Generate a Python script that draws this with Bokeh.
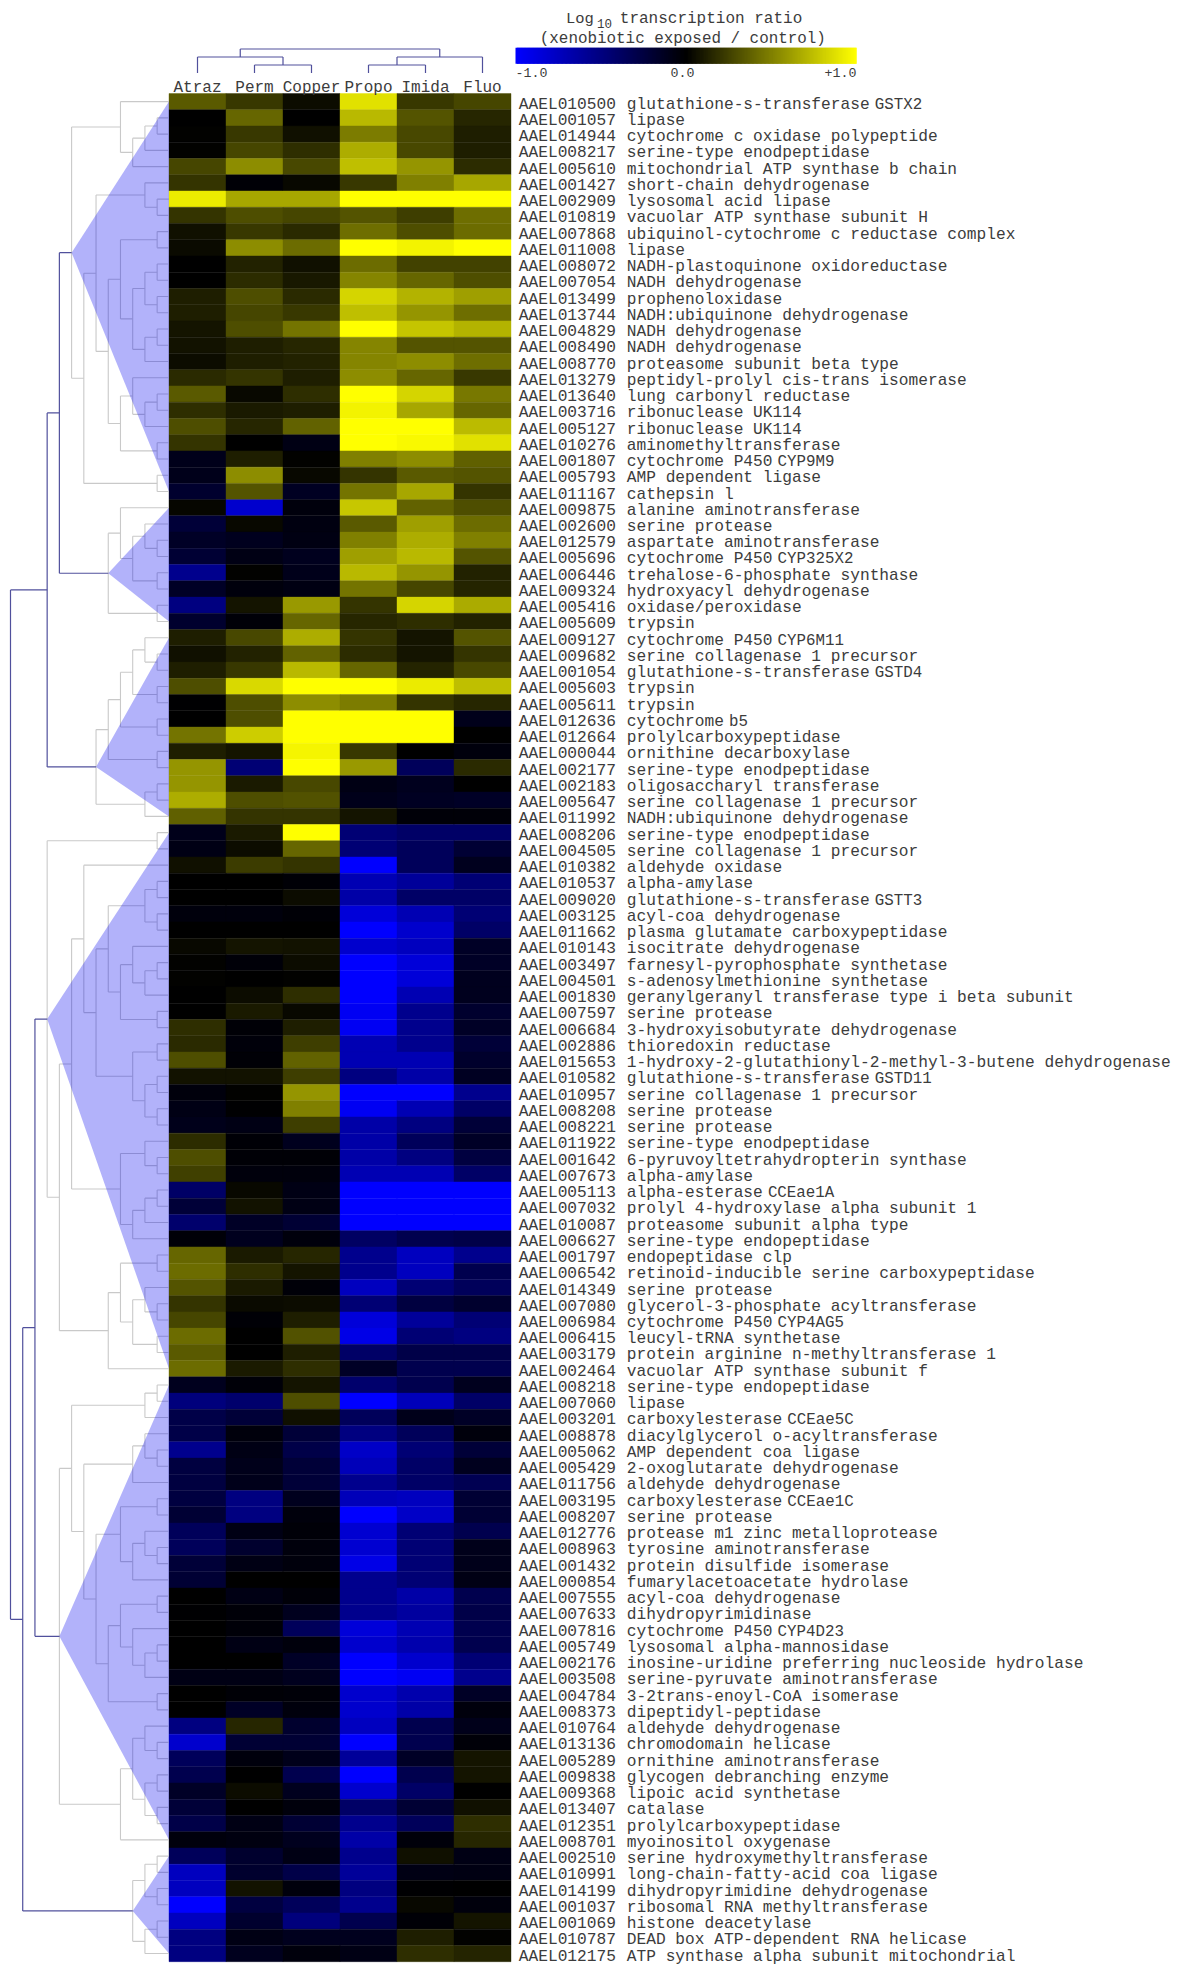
from bokeh.plotting import figure
from bokeh.embed import file_html
from bokeh.resources import INLINE
from bokeh.core.properties import value
from bokeh.models import ColumnDataSource, LinearColorMapper
from bokeh.transform import transform

# ---------- data ----------
COLUMNS = ["Atraz", "Perm", "Copper", "Propo", "Imida", "Fluo"]

ATRAZ = [.35,0,.01,.01,.27,.2,.92,.2,.06,.04,
 0,0,.12,.12,.08,.07,.05,.16,.35,.18,
 .3,.2,-.1,-.1,-.18,.02,-.22,-.15,-.2,-.55,
 -.15,-.5,-.18,.12,.06,.12,.3,-.01,0,.45,
 .12,.58,.58,.68,.37,-.1,-.08,.06,0,0,
 -.05,0,.03,.01,.01,0,0,.18,.16,.3,
 .07,-.05,-.08,-.1,.17,.3,.25,-.4,-.22,-.42,
 -.03,.4,.42,.33,.2,.27,.42,.35,.42,-.12,
 -.48,-.28,-.28,-.55,-.25,-.25,-.25,-.2,-.35,-.35,
 -.22,-.2,0,-.01,0,0,0,-.08,0,0,
 -.5,-.8,-.35,-.3,-.15,-.22,-.28,-.05,-.35,-.75,
 -.75,-1,-.75,-.5,-.5]
PERM = [.22,.4,.22,.27,.55,-.02,.65,.3,.22,.55,
 .13,.17,.3,.27,.3,.12,.12,.2,.03,.1,
 .15,0,.12,.55,.33,-.8,.03,-.12,-.08,.01,
 -.05,.08,-.03,.28,.13,.22,.85,.3,.3,.8,
 .08,-.45,.1,.3,.2,.1,.05,.23,0,0,
 -.05,0,.08,-.03,0,.05,.1,-.02,-.04,-.02,
 .07,.01,-.01,-.08,-.02,-.02,-.05,.03,.07,-.15,
 -.12,.1,.18,.1,.04,-.02,0,0,.1,-.03,
 -.42,-.22,-.05,-.08,-.1,-.1,-.5,-.5,-.08,-.18,
 -.08,0,-.08,-.03,-.03,-.08,0,-.08,-.02,-.15,
 .15,-.2,-.05,0,.05,0,-.08,-.06,-.18,-.18,
 .07,-.25,-.18,-.08,-.12]
COPPER = [.05,0,.06,.18,.28,.03,.65,.27,.16,.42,
 .06,.09,.16,.22,.45,.15,.13,.12,.18,.12,
 .38,-.08,.01,.03,-.13,-.05,-.06,-.07,-.12,-.1,
 -.07,.6,.4,.68,.38,.72,1,.55,1,1,
 .96,1,.28,.32,.2,1,.4,.2,-.02,.05,
 -.02,0,.07,.05,.01,.18,.03,.12,.24,.38,
 .24,.58,.5,.24,-.12,-.02,-.05,-.08,-.08,-.2,
 -.05,.15,.08,-.03,.05,.12,.32,.12,.18,.08,
 .3,.06,-.22,-.28,-.22,-.22,-.12,-.05,-.03,-.05,
 -.05,0,-.03,-.12,-.35,-.05,-.15,-.12,-.03,-.05,
 -.18,-.2,-.1,-.3,-.12,-.05,-.2,-.12,-.08,-.28,
 -.05,-.35,-.48,-.12,-.05]
PROPO = [.88,.72,.48,.68,.75,.22,1,.33,.43,1,
 .42,.52,.83,.75,1,.52,.52,.55,1,.95,
 1,1,.5,.2,.45,.78,.35,.5,.62,.72,
 .45,.2,.15,.2,.17,.4,1,.48,1,1,
 .22,.6,-.08,-.1,.08,-.45,-.45,-1,-.7,-.65,
 -.85,-1,-.8,-1,-1,-1,-.95,-.95,-.7,-.7,
 -.5,-1,-.95,-.65,-.65,-.65,-.7,-1,-1,-1,
 -.38,-.55,-.55,-.75,-.45,-.85,-.9,-.4,-.15,-.42,
 -1,-.35,-.5,-.78,-.72,-.55,-.72,-1,-.82,-.82,
 -.9,-.55,-.55,-.55,-.85,-.8,-1,-1,-.8,-.8,
 -.75,-1,-.6,-1,-.8,-.4,-.55,-.65,-.55,-.6,
 -.5,-.55,-.3,-.12,-.08]
IMIDA = [.22,.33,.28,.28,.58,.5,1,.24,.3,.95,
 .26,.4,.7,.58,.77,.33,.55,.4,.83,.65,
 1,.97,.55,.35,.65,.38,.62,.68,.72,.58,
 .27,.83,.18,.08,.08,.14,.92,.2,1,1,
 0,-.35,-.12,-.13,-.03,-.4,-.35,-.35,-.6,-.4,
 -.7,-.8,-.75,-.85,-.85,-.7,-.55,-.55,-.55,-.7,
 -.65,-1,-.7,-.5,-.35,-.5,-.7,-1,-1,-1,
 -.3,-.75,-.75,-.45,-.25,-.6,-.45,-.28,-.3,-.3,
 -.72,-.1,-.35,-.45,-.4,-.4,-.75,-.78,-.45,-.45,
 -.45,-.45,-.65,-.62,-.7,-.68,-.8,-.95,-.68,-.65,
 -.3,-.3,-.15,-.3,-.4,-.2,-.35,-.04,.06,-.08,
 -.01,.03,-.02,.12,.18]
FLUO = [.27,.15,.12,.12,.17,.65,1,.43,.42,1,
 .26,.3,.62,.43,.7,.33,.43,.22,.47,.4,
 .73,.88,.37,.33,.2,.3,.42,.5,.33,.13,
 .14,.67,.13,.33,.2,.28,.75,.15,-.1,0,
 -.05,.16,0,-.15,-.03,-.4,-.2,-.12,-.45,-.4,
 -.45,-.4,-.15,-.15,-.12,-.12,-.18,-.15,-.22,-.17,
 -.13,-.55,-.4,-.22,-.15,-.25,-.4,-1,-1,-1,
 -.28,-.55,-.3,-.35,-.18,-.45,-.5,-.28,-.3,-.12,
 -.4,-.15,-.05,-.22,-.12,-.32,-.2,-.2,-.3,-.1,
 -.1,-.08,-.3,-.28,-.3,-.3,-.45,-.55,-.15,-.05,
 -.1,-.03,.08,.08,0,.06,.18,.15,-.08,-.07,
 0,-.05,.08,.01,.14]
SERIES = [ATRAZ, PERM, COPPER, PROPO, IMIDA, FLUO]

GENE_IDS = """AAEL010500 AAEL001057 AAEL014944 AAEL008217 AAEL005610 AAEL001427 AAEL002909 AAEL010819 AAEL007868 AAEL011008
AAEL008072 AAEL007054 AAEL013499 AAEL013744 AAEL004829 AAEL008490 AAEL008770 AAEL013279 AAEL013640 AAEL003716
AAEL005127 AAEL010276 AAEL001807 AAEL005793 AAEL011167 AAEL009875 AAEL002600 AAEL012579 AAEL005696 AAEL006446
AAEL009324 AAEL005416 AAEL005609 AAEL009127 AAEL009682 AAEL001054 AAEL005603 AAEL005611 AAEL012636 AAEL012664
AAEL000044 AAEL002177 AAEL002183 AAEL005647 AAEL011992 AAEL008206 AAEL004505 AAEL010382 AAEL010537 AAEL009020
AAEL003125 AAEL011662 AAEL010143 AAEL003497 AAEL004501 AAEL001830 AAEL007597 AAEL006684 AAEL002886 AAEL015653
AAEL010582 AAEL010957 AAEL008208 AAEL008221 AAEL011922 AAEL001642 AAEL007673 AAEL005113 AAEL007032 AAEL010087
AAEL006627 AAEL001797 AAEL006542 AAEL014349 AAEL007080 AAEL006984 AAEL006415 AAEL003179 AAEL002464 AAEL008218
AAEL007060 AAEL003201 AAEL008878 AAEL005062 AAEL005429 AAEL011756 AAEL003195 AAEL008207 AAEL012776 AAEL008963
AAEL001432 AAEL000854 AAEL007555 AAEL007633 AAEL007816 AAEL005749 AAEL002176 AAEL003508 AAEL004784 AAEL008373
AAEL010764 AAEL013136 AAEL005289 AAEL009838 AAEL009368 AAEL013407 AAEL012351 AAEL008701 AAEL002510 AAEL010991
AAEL014199 AAEL001037 AAEL001069 AAEL010787 AAEL012175""".split()

# a "|" separates the family name from the gene symbol set after it
GENE_NAMES = [
 "glutathione-s-transferase|GSTX2", "lipase", "cytochrome c oxidase polypeptide", "serine-type enodpeptidase",
 "mitochondrial ATP synthase b chain", "short-chain dehydrogenase", "lysosomal acid lipase",
 "vacuolar ATP synthase subunit H", "ubiquinol-cytochrome c reductase complex", "lipase",
 "NADH-plastoquinone oxidoreductase", "NADH dehydrogenase", "prophenoloxidase", "NADH:ubiquinone dehydrogenase",
 "NADH dehydrogenase", "NADH dehydrogenase", "proteasome subunit beta type", "peptidyl-prolyl cis-trans isomerase",
 "lung carbonyl reductase", "ribonuclease UK114", "ribonuclease UK114", "aminomethyltransferase",
 "cytochrome P450|CYP9M9", "AMP dependent ligase", "cathepsin l", "alanine aminotransferase", "serine protease",
 "aspartate aminotransferase", "cytochrome P450|CYP325X2", "trehalose-6-phosphate synthase",
 "hydroxyacyl dehydrogenase", "oxidase/peroxidase", "trypsin", "cytochrome P450|CYP6M11",
 "serine collagenase 1 precursor", "glutathione-s-transferase|GSTD4", "trypsin", "trypsin", "cytochrome|b5",
 "prolylcarboxypeptidase", "ornithine decarboxylase", "serine-type enodpeptidase", "oligosaccharyl transferase",
 "serine collagenase 1 precursor", "NADH:ubiquinone dehydrogenase", "serine-type enodpeptidase",
 "serine collagenase 1 precursor", "aldehyde oxidase", "alpha-amylase", "glutathione-s-transferase|GSTT3",
 "acyl-coa dehydrogenase", "plasma glutamate carboxypeptidase", "isocitrate dehydrogenase",
 "farnesyl-pyrophosphate synthetase", "s-adenosylmethionine synthetase",
 "geranylgeranyl transferase type i beta subunit", "serine protease", "3-hydroxyisobutyrate dehydrogenase",
 "thioredoxin reductase", "1-hydroxy-2-glutathionyl-2-methyl-3-butene dehydrogenase",
 "glutathione-s-transferase|GSTD11", "serine collagenase 1 precursor", "serine protease", "serine protease",
 "serine-type enodpeptidase", "6-pyruvoyltetrahydropterin synthase", "alpha-amylase", "alpha-esterase|CCEae1A",
 "prolyl 4-hydroxylase alpha subunit 1", "proteasome subunit alpha type", "serine-type endopeptidase",
 "endopeptidase clp", "retinoid-inducible serine carboxypeptidase", "serine protease",
 "glycerol-3-phosphate acyltransferase", "cytochrome P450|CYP4AG5", "leucyl-tRNA synthetase",
 "protein arginine n-methyltransferase 1", "vacuolar ATP synthase subunit f", "serine-type endopeptidase", "lipase",
 "carboxylesterase|CCEae5C", "diacylglycerol o-acyltransferase", "AMP dependent coa ligase",
 "2-oxoglutarate dehydrogenase", "aldehyde dehydrogenase", "carboxylesterase|CCEae1C", "serine protease",
 "protease m1 zinc metalloprotease", "tyrosine aminotransferase", "protein disulfide isomerase",
 "fumarylacetoacetate hydrolase", "acyl-coa dehydrogenase", "dihydropyrimidinase", "cytochrome P450|CYP4D23",
 "lysosomal alpha-mannosidase", "inosine-uridine preferring nucleoside hydrolase",
 "serine-pyruvate aminotransferase", "3-2trans-enoyl-CoA isomerase", "dipeptidyl-peptidase",
 "aldehyde dehydrogenase", "chromodomain helicase", "ornithine aminotransferase", "glycogen debranching enzyme",
 "lipoic acid synthetase", "catalase", "prolylcarboxypeptidase", "myoinositol oxygenase",
 "serine hydroxymethyltransferase", "long-chain-fatty-acid coa ligase", "dihydropyrimidine dehydrogenase",
 "ribosomal RNA methyltransferase", "histone deacetylase", "DEAD box ATP-dependent RNA helicase",
 "ATP synthase alpha subunit mitochondrial"]

assert len(GENE_IDS) == len(GENE_NAMES) == 115 and all(len(s) == 115 for s in SERIES)

# row dendrogram: (merge level, child, child); a plain int is a row
CL1 = (5, (9, 0, (10, (11, (12, 1, 2), 3), 4)),
       (6, (7, (11, 5, (12, 6, 7)),
            (8, (9, (12, 8, 9), (10, (11, (12, 10, 11), (12, 12, 13)), (11, (12, 14, 15), 16))),
             (9, (10, 17, (11, (12, 18, 19), 20)), (12, 21, 22)))),
        (12, 23, 24)))
CL2 = (8, (9, 25, (10, (11, 26, (12, 27, 28)), (12, 29, 30))), (12, 31, 32))
CL3 = (7, (8, (9, (10, (11, 33, (12, 34, 35)), (12, 36, 37)), (12, 38, 39)), (12, 40, 41)),
       (11, (12, 42, 43), 44))
CL4 = (3, (12, 45, 46),
       (4, (5, (6, 47, (7, (8, (11, (12, 48, 49), (12, 50, 51)),
                            (9, (10, 52, (11, (12, 53, 54), 55)), (12, 56, 57))),
                        (10, (12, 58, 59), (11, (12, 60, 61), (12, 62, 63))))),
            (9, (11, 64, (12, 65, 66)), (10, (11, (12, 67, 68), 69), 70))),
        (8, (9, (12, 71, 72), (10, (11, 73, (12, 74, 75)), (12, 76, 77))), 78)))
CL5 = (4, (5, (11, (12, 79, 80), 81),
           (6, (10, (11, 82, (12, 83, 84)), 85),
            (7, (9, (12, 86, 87), (10, (11, 88, (12, 89, 90)), 91)),
             (8, (9, (12, 92, 93), (10, 94, (11, (12, 95, 96), 97))), (12, 98, 99))))),
       (9, (10, (11, 100, (12, 101, 102)), (11, (12, 103, 104), (12, 105, 106))), 107))
CL6 = (10, (11, (12, 108, 109), (12, 110, 111)), (11, (12, 112, 113), 114))
ROW_TREE = (0, (3, (4, CL1, CL2), CL3), (1, (2, CL4, CL5), CL6))
CLUSTERS = [CL1, CL2, CL3, CL4, CL5, CL6]

# column dendrogram
COL_TREE = (0, (1, 0, (2, 1, 2)), (1, (2, 3, 4), 5))

SCALE_TICKS = ["-1.0", "0.0", "+1.0"]

# ---------- layout (page pixels) ----------
HEAT_L, COL_W = 168.5, 57.0
HEAT_T, ROW_H = 93.0, 16.245
LEVEL_X0, LEVEL_DX = 10.0, 12.22
COLTREE_TOP, COLTREE_DY, COLTREE_BOTTOM = 48.5, 8.0, 72.5
BAR_L, BAR_R, BAR_T, BAR_B = 515.0, 856.0, 47.3, 63.3
NAVY, GREY = "#50509c", "#c9c9c9"
FONT = value("Liberation Mono")
INK = "#3c3c3c"

p = figure(width=1178, height=1966, x_range=(0, 1178), y_range=(1966, 0),
           output_backend="svg", toolbar_location=None, min_border=0,
           outline_line_color=None, background_fill_color="white", border_fill_color="white")
p.axis.visible = False
p.grid.visible = False

row_y = lambda r: HEAT_T + ROW_H * (r + .5)
level_x = lambda l: LEVEL_X0 + LEVEL_DX * l
col_x = lambda c: HEAT_L + COL_W * (c + .5)

# ---------- heat map ----------
palette = ["#%02x%02x%02x" % ((0, 0, round(255 * (128 - i) / 128)) if i < 128
                              else (round(255 * (i - 128) / 128), round(255 * (i - 128) / 128), 0))
           for i in range(257)]
mapper = LinearColorMapper(palette=palette, low=-1, high=1)

cell = dict(x=[], y=[], v=[])
for c, series in enumerate(SERIES):
    for r, v in enumerate(series):
        cell["x"].append(col_x(c)); cell["y"].append(row_y(r)); cell["v"].append(v)
p.rect("x", "y", width=COL_W, height=ROW_H, source=ColumnDataSource(cell),
       fill_color=transform("v", mapper), line_color=transform("v", mapper), line_width=0.4)

# ---------- row dendrogram ----------
segs = {NAVY: dict(x0=[], y0=[], x1=[], y1=[]), GREY: dict(x0=[], y0=[], x1=[], y1=[])}
wedges = dict(xs=[], ys=[])

def seg(colour, x0, y0, x1, y1):
    s = segs[colour]
    s["x0"].append(x0); s["y0"].append(y0); s["x1"].append(x1); s["y1"].append(y1)

def leaves(node):
    return [node] if isinstance(node, int) else leaves(node[1]) + leaves(node[2])

def walk(node, colour):
    if isinstance(node, int):
        return HEAT_L, row_y(node)
    if any(node is c for c in CLUSTERS):
        colour = GREY
    x = level_x(node[0])
    xa, ya = walk(node[1], colour)
    xb, yb = walk(node[2], colour)
    seg(colour, x, ya, x, yb)
    seg(colour, x, ya, xa, ya)
    seg(colour, x, yb, xb, yb)
    y = (ya + yb) / 2
    if any(node is c for c in CLUSTERS):
        ls = leaves(node)
        wedges["xs"].append([x, HEAT_L, HEAT_L])
        wedges["ys"].append([y, row_y(min(ls)), row_y(max(ls))])
    return x, y

walk(ROW_TREE, NAVY)

# ---------- column dendrogram ----------
def walk_col(node):
    if isinstance(node, int):
        return col_x(node), COLTREE_BOTTOM
    y = COLTREE_TOP + COLTREE_DY * node[0]
    xa, ya = walk_col(node[1])
    xb, yb = walk_col(node[2])
    seg(NAVY, xa, y, xb, y)
    seg(NAVY, xa, y, xa, ya)
    seg(NAVY, xb, y, xb, yb)
    return (xa + xb) / 2, y

walk_col(COL_TREE)

p.segment("x0", "y0", "x1", "y1", source=ColumnDataSource(segs[GREY]), line_color=GREY, line_width=1.1)
p.patches("xs", "ys", source=ColumnDataSource(wedges), fill_color="#0606ef", fill_alpha=0.31, line_color=None)
p.segment("x0", "y0", "x1", "y1", source=ColumnDataSource(segs[NAVY]), line_color=NAVY, line_width=1.2)

# ---------- column labels ----------
p.text([col_x(i) for i in range(6)], [87] * 6, text=COLUMNS, text_font=FONT, text_font_size="16px",
       text_align="center", text_baseline="alphabetic", text_color=INK)

# ---------- row labels ----------
CH_W = 9.72
ids_x, ids_y, nm_x, nm_t, nm_y, sf_x, sf_t, sf_y = [], [], [], [], [], [], [], []
for r, (gid, name) in enumerate(zip(GENE_IDS, GENE_NAMES)):
    y = row_y(r) + 3.0
    ids_x.append(518.3); ids_y.append(y)
    main, _, sym = name.partition("|")
    nm_x.append(626.3); nm_t.append(main); nm_y.append(y)
    if sym:
        sf_x.append(626.3 + CH_W * len(main) + 5); sf_t.append(sym); sf_y.append(y)
label = dict(text_font=FONT, text_font_size="16.2px", text_baseline="alphabetic", text_color=INK)
p.text(ids_x, ids_y, text=GENE_IDS, **label)
p.text(nm_x, nm_y, text=nm_t, **label)
p.text(sf_x, sf_y, text=sf_t, text_font=FONT, text_font_size="15.8px", text_baseline="alphabetic", text_color=INK)

# ---------- colour scale ----------
steps = len(palette)
bar_w = (BAR_R - BAR_L) / steps
p.quad(left=[BAR_L + i * bar_w for i in range(steps)],
       right=[min(BAR_L + (i + 2) * bar_w, BAR_R) for i in range(steps)],
       top=[BAR_T] * steps, bottom=[BAR_B] * steps,
       fill_color=palette, line_color=None)

title = dict(text_font=FONT, text_baseline="alphabetic", text_color=INK)
p.text([565.5], [18.5], text=["Log"], text_font_size="15.5px", **title)
p.text([596.5], [22.5], text=["10"], text_font_size="12.5px", **title)
p.text([619.3], [18.5], text=["transcription ratio"], text_font_size="16px", **title)
p.text([539.3], [38], text=["(xenobiotic exposed / control)"], text_font_size="15.9px", **title)

p.text([515, 682, 856], [72] * 3, text=SCALE_TICKS, text_font=FONT, text_font_size="13.3px",
       text_align=["left", "center", "right"], text_baseline="alphabetic", text_color=INK)

open("out.html", "w").write(file_html(p, INLINE))
